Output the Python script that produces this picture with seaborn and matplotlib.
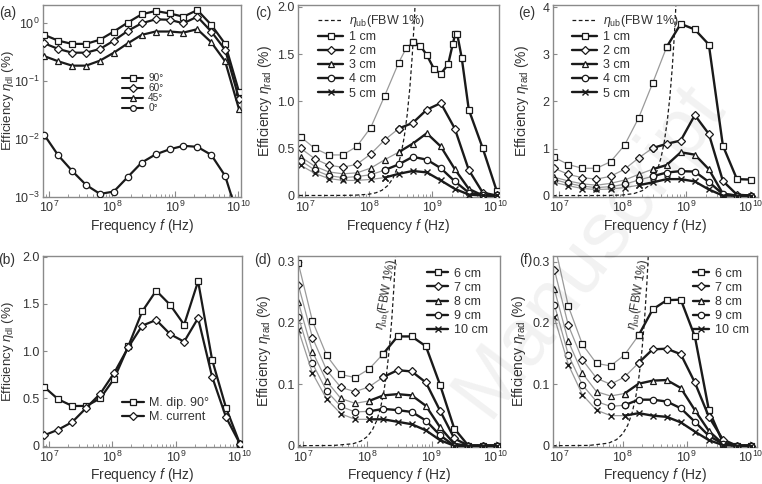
import numpy as np
import matplotlib
matplotlib.use("Agg")
import matplotlib.pyplot as plt
import seaborn as sns
from matplotlib.lines import Line2D
from matplotlib.ticker import LogLocator, NullFormatter, NullLocator, FixedLocator, FixedFormatter

sns.set_theme(style="white")
plt.rcParams['font.family'] = ['Liberation Sans', 'DejaVu Sans']
plt.rcParams['mathtext.fontset'] = 'custom'
plt.rcParams['mathtext.rm'] = 'Liberation Sans'
plt.rcParams['mathtext.it'] = 'Liberation Sans:italic'
plt.rcParams['mathtext.bf'] = 'Liberation Sans:bold'

# ---------------- data ----------------
freq = [8.5e6, 1.41e7, 2.34e7, 3.89e7, 6.46e7, 1.07e8, 1.78e8, 2.95e8,
        4.9e8, 8.13e8, 1.35e9, 2.24e9, 3.72e9, 6.17e9, 1.02e10]

# (a) dipole orientation, log scale
a_labels = ["90°", "60°", "45°", "0°"]
a_90 = [0.63, 0.50, 0.44, 0.44, 0.52, 0.72, 1.03, 1.43, 1.63, 1.48, 1.30, 1.69, 0.94, 0.44, 0.066]
a_60 = [0.45, 0.36, 0.31, 0.31, 0.36, 0.50, 0.74, 1.00, 1.17, 1.15, 1.00, 1.30, 0.72, 0.35, 0.05]
a_45 = [0.27, 0.22, 0.185, 0.185, 0.226, 0.31, 0.45, 0.63, 0.72, 0.72, 0.69, 0.79, 0.47, 0.22, 0.033]
a_0 = [0.0117, 0.0052, 0.0028, 0.0016, 0.00112, 0.00123, 0.0022, 0.0039, 0.0054, 0.0066,
       0.0076, 0.0073, 0.0053, 0.0023, 0.0004]

# (b)
b_labels = ["M. dip. 90°", "M. current"]
b_dip = [0.62, 0.49, 0.42, 0.42, 0.50, 0.71, 1.05, 1.42, 1.64, 1.49, 1.28, 1.74, 0.91, 0.40, 0.02]
b_cur = [0.11, 0.17, 0.25, 0.40, 0.55, 0.77, 1.04, 1.27, 1.33, 1.18, 1.10, 1.35, 0.73, 0.30, 0.02]

# (c)
c_labels = ["1 cm", "2 cm", "3 cm", "4 cm", "5 cm"]
freq_c1 = [8.5e6, 1.41e7, 2.34e7, 3.89e7, 6.46e7, 1.07e8, 1.78e8, 2.95e8, 3.85e8, 4.9e8,
           6.4e8, 8.13e8, 1.06e9, 1.35e9, 1.76e9, 2.09e9, 2.27e9, 2.45e9, 2.88e9,
           3.72e9, 6.17e9, 1.02e10]
c_1 = [0.62, 0.50, 0.43, 0.43, 0.52, 0.72, 1.06, 1.41, 1.56, 1.63, 1.59, 1.49, 1.34,
       1.29, 1.39, 1.61, 1.71, 1.71, 1.46, 0.91, 0.50, 0.05]
c_2 = [0.50, 0.39, 0.32, 0.30, 0.33, 0.44, 0.59, 0.71, 0.77, 0.91, 0.98, 0.71, 0.27, 0.03, 0.0]
c_3 = [0.41, 0.31, 0.25, 0.23, 0.24, 0.29, 0.38, 0.46, 0.55, 0.66, 0.52, 0.28, 0.07, 0.0, 0.0]
c_4 = [0.37, 0.27, 0.21, 0.19, 0.20, 0.22, 0.27, 0.33, 0.41, 0.38, 0.29, 0.15, 0.03, 0.0, 0.0]
c_5 = [0.32, 0.235, 0.18, 0.16, 0.16, 0.17, 0.19, 0.23, 0.26, 0.245, 0.16, 0.07, 0.01, 0.0, 0.0]
ub_c_f = [8e6, 3e7, 6e7, 1e8, 1.3e8, 1.6e8, 2e8, 2.4e8, 2.8e8, 3.2e8, 3.6e8, 4.0e8, 4.4e8, 4.8e8, 5.2e8, 5.6e8]
ub_c = [0.0, 0.0004, 0.0029, 0.0133, 0.0293, 0.0546, 0.107, 0.184, 0.293, 0.437, 0.622, 0.854,
        1.136, 1.476, 1.876, 2.34]

# (d)
d_labels = ["6 cm", "7 cm", "8 cm", "9 cm", "10 cm"]
d_6 = [0.297, 0.203, 0.147, 0.116, 0.111, 0.125, 0.150, 0.178, 0.178, 0.162, 0.099, 0.028, 0.0, 0.0, 0.0]
d_7 = [0.262, 0.176, 0.123, 0.095, 0.088, 0.096, 0.112, 0.123, 0.121, 0.103, 0.057, 0.012, 0.0, 0.0, 0.0]
d_8 = [0.234, 0.153, 0.105, 0.077, 0.069, 0.073, 0.082, 0.084, 0.082, 0.065, 0.030, 0.003, 0.0, 0.0, 0.0]
d_9 = [0.210, 0.134, 0.089, 0.064, 0.055, 0.056, 0.060, 0.058, 0.055, 0.041, 0.017, 0.0, 0.0, 0.0, 0.0]
d_10 = [0.189, 0.118, 0.076, 0.052, 0.043, 0.043, 0.043, 0.039, 0.035, 0.025, 0.009, 0.0, 0.0, 0.0, 0.0]
ub_d_f = [8e6, 3e7, 6e7, 8e7, 1e8, 1.2e8, 1.4e8, 1.6e8, 1.8e8, 2.0e8, 2.2e8, 2.4e8, 2.6e8, 2.8e8]
ub_d = [0.0, 0.0004, 0.0032, 0.0076, 0.0149, 0.0257, 0.0408, 0.0609, 0.0867, 0.1189, 0.1582,
        0.2054, 0.2612, 0.3262]

# (e)
e_1 = [0.81, 0.66, 0.58, 0.58, 0.72, 1.07, 1.65, 2.39, 3.16, 3.65, 3.53, 3.21, 1.06, 0.35, 0.34]
e_2 = [0.58, 0.45, 0.38, 0.35, 0.41, 0.56, 0.80, 1.01, 1.10, 1.17, 1.71, 1.31, 0.31, 0.02, 0.0]
e_3 = [0.39, 0.31, 0.25, 0.22, 0.26, 0.33, 0.45, 0.56, 0.65, 0.92, 0.87, 0.56, 0.04, 0.0, 0.0]
e_4 = [0.34, 0.26, 0.20, 0.17, 0.19, 0.24, 0.33, 0.41, 0.49, 0.52, 0.51, 0.29, 0.03, 0.0, 0.0]
e_5 = [0.28, 0.21, 0.15, 0.13, 0.14, 0.17, 0.22, 0.28, 0.35, 0.35, 0.30, 0.13, 0.0, 0.0, 0.0]
ub_e_f = [8e6, 3e7, 6e7, 1e8, 1.5e8, 2e8, 2.5e8, 3e8, 3.5e8, 4e8, 4.5e8, 5e8, 5.5e8, 6e8, 6.5e8, 7e8]
ub_e = [0.0, 0.0003, 0.0027, 0.0127, 0.0427, 0.101, 0.198, 0.342, 0.543, 0.810, 1.153, 1.582,
        2.106, 2.734, 3.476, 4.34]

# (f)
f_6 = [0.33, 0.227, 0.165, 0.134, 0.130, 0.148, 0.180, 0.222, 0.237, 0.238, 0.178, 0.058, 0.005, 0.0, 0.0]
f_7 = [0.287, 0.196, 0.140, 0.110, 0.100, 0.112, 0.135, 0.157, 0.158, 0.149, 0.103, 0.047, 0.01, 0.0, 0.0]
f_8 = [0.255, 0.170, 0.118, 0.088, 0.081, 0.085, 0.101, 0.106, 0.107, 0.094, 0.058, 0.024, 0.003, 0.0, 0.0]
f_9 = [0.230, 0.148, 0.099, 0.072, 0.064, 0.066, 0.075, 0.075, 0.072, 0.061, 0.039, 0.016, 0.003, 0.0, 0.0]
f_10 = [0.209, 0.132, 0.083, 0.058, 0.049, 0.049, 0.053, 0.049, 0.047, 0.038, 0.023, 0.009, 0.001, 0.0, 0.0]
ub_f_f = [8e6, 3e7, 6e7, 8e7, 1e8, 1.2e8, 1.4e8, 1.6e8, 1.8e8, 2.0e8, 2.2e8, 2.4e8, 2.6e8]
ub_f = [0.0, 0.0005, 0.0042, 0.0099, 0.0193, 0.0334, 0.0530, 0.0791, 0.1126, 0.1544, 0.2056,
        0.2669, 0.3393]

ub_label = r"$\eta_{\rm ub}$(FBW 1%)"
watermark = "Manuscript"

# ---------------- style ----------------
TXT = "#333333"
SPINE = "#8a8a8a"
BLACK = "#1a1a1a"
GRAY = "#9a9a9a"
MS = 4.6
MEW = 0.9

markers5 = ["s", "D", "^", "o", "x"]
msizes5 = [MS, MS * 0.85, MS, MS, MS * 0.9]

fig = plt.figure(figsize=(7.62, 4.84), dpi=100)
fig.patch.set_facecolor("white")

W, H = 762.0, 484.0


def mkax(l, r, t, b):
    return fig.add_axes([l / W, 1 - b / H, (r - l) / W, (b - t) / H])


ax_a = mkax(43, 241, 5, 197)
ax_c = mkax(298, 499, 5, 197)
ax_e = mkax(553, 758, 5, 197)
ax_b = mkax(43, 242, 256, 446.7)
ax_d = mkax(298, 500, 256, 446.7)
ax_f = mkax(553, 757, 256, 446.7)


def style_ax(ax, xlim, ylim, yticks=None, yticklabels=None, logy=False):
    ax.set_facecolor("white")
    ax.set_xscale("log")
    if logy:
        ax.set_yscale("log")
    ax.set_xlim(*xlim)
    ax.set_ylim(*ylim)
    for s in ax.spines.values():
        s.set_color(SPINE)
        s.set_linewidth(1.0)
        s.set_visible(True)
    ax.xaxis.set_major_locator(FixedLocator([1e7, 1e8, 1e9, 1e10]))
    ax.xaxis.set_major_formatter(FixedFormatter([r"$10^{7}$", r"$10^{8}$", r"$10^{9}$", r"$10^{10}$"]))
    ax.xaxis.set_minor_locator(LogLocator(base=10, subs=np.arange(2, 10), numticks=20))
    ax.xaxis.set_minor_formatter(NullFormatter())
    ax.tick_params(axis="x", which="major", direction="in", length=4, width=0.8,
                   color=SPINE, labelsize=9, labelcolor=TXT, pad=2.2, bottom=True, top=False)
    ax.tick_params(axis="x", which="minor", direction="in", length=2.2, width=0.6,
                   color=SPINE, bottom=True, top=False)
    if yticks is not None:
        ax.yaxis.set_major_locator(FixedLocator(yticks))
        ax.yaxis.set_major_formatter(FixedFormatter(yticklabels))
    ax.yaxis.set_minor_locator(NullLocator())
    ax.tick_params(axis="y", which="major", direction="in", length=3, width=0.8,
                   color=SPINE, labelsize=9, labelcolor=TXT, pad=2.6, left=True, right=False)
    ax.set_xlabel(r"Frequency $f$ (Hz)", fontsize=10, color=TXT, labelpad=1.0)
    ax.grid(False)


def draw_series(ax, x, y, marker, ms, split=None):
    """draw a series; up to split index thin gray, after it thick black"""
    x = list(x)
    y = list(y)
    mfc = "white" if marker != "x" else BLACK
    mew = MEW if marker != "x" else 1.0
    common = dict(marker=marker, markersize=ms, markerfacecolor=mfc,
                  markeredgecolor=BLACK, markeredgewidth=mew, legend=False,
                  estimator=None, sort=False, ax=ax)
    if split is None:
        sns.lineplot(x=x, y=y, color=BLACK, linewidth=1.6, zorder=3, **common)
    else:
        k = split
        if k > 0:
            sns.lineplot(x=x[:k + 1], y=y[:k + 1], color=GRAY, linewidth=0.9, zorder=2, **common)
        sns.lineplot(x=x[k:], y=y[k:], color=BLACK, linewidth=1.7, zorder=3, **common)


def split_index(x, y, fu, u):
    lx = np.log10(np.asarray(x, float))
    lub = np.interp(lx, np.log10(fu), u, left=0.0, right=np.inf)
    above = np.where(np.asarray(y) > lub)[0]
    return int(above.max()) if len(above) else 0


def legend_handles(markers, sizes, lw=1.7):
    hs = []
    for m, s in zip(markers, sizes):
        mfc = "white" if m != "x" else BLACK
        hs.append(Line2D([], [], color=BLACK, linewidth=lw, marker=m, markersize=s,
                         markerfacecolor=mfc, markeredgecolor=BLACK,
                         markeredgewidth=MEW if m != "x" else 1.0))
    return hs


# ---------- (a) ----------
style_ax(ax_a, (8.1e6, 1.1e10), (9.9e-4, 2.07), [1e-3, 1e-2, 1e-1, 1e0],
         [r"$10^{-3}$", r"$10^{-2}$", r"$10^{-1}$", r"$10^{0}$"], logy=True)
ax_a.yaxis.set_minor_locator(NullLocator())
a_series = [a_90, a_60, a_45, a_0]
a_mk = ["s", "D", "^", "o"]
a_ms = [MS * 0.9, MS * 0.8, MS * 0.9, MS * 0.9]
for ys, m, s in zip(a_series, a_mk, [MS, MS * 0.85, MS, MS]):
    draw_series(ax_a, freq, ys, m, s)
ax_a.legend(legend_handles(a_mk, a_ms, 1.5), a_labels, loc="upper left",
            bbox_to_anchor=(0.38, 0.665), frameon=False, fontsize=7.2,
            handlelength=2.1, labelspacing=0.0, handletextpad=0.5,
            borderaxespad=0.0, labelcolor=TXT)
ax_a.set_ylabel(r"Efficiency $\eta_{\rm dl}$ (%)", fontsize=9.5, color=TXT)
ax_a.yaxis.set_label_coords(-0.138, 0.5)

# ---------- (b) ----------
style_ax(ax_b, (8.1e6, 1.1e10), (-0.011, 2.007), [0, 0.5, 1.0, 1.5, 2.0],
         ["0", "0.5", "1.0", "1.5", "2.0"])
b_mk = ["s", "D"]
b_ms = [MS, MS * 0.85]
for ys, m, s in zip([b_dip, b_cur], b_mk, b_ms):
    draw_series(ax_b, freq, ys, m, s)
ax_b.legend(legend_handles(b_mk, b_ms, 1.6), b_labels, loc="upper left",
            bbox_to_anchor=(0.37, 0.285), frameon=False, fontsize=9,
            handlelength=1.75, labelspacing=0.17, handletextpad=0.45,
            borderaxespad=0.0, labelcolor=TXT)
ax_b.set_ylabel(r"Efficiency $\eta_{\rm dl}$ (%)", fontsize=9.5, color=TXT)
ax_b.yaxis.set_label_coords(-0.135, 0.5)


def rad_panel(ax, xlim, ylim, yt, ytl, series, fx_list, fu, u, labels, leg_loc, leg_anchor,
              ub_in_legend, ylab_x, hlen):
    style_ax(ax, xlim, ylim, yt, ytl)
    sns.lineplot(x=fu, y=u, ax=ax, color=BLACK, linewidth=0.9, linestyle=(0, (3, 2)),
                 estimator=None, sort=False, legend=False, zorder=1.5)
    for ys, fx, m, s in zip(series, fx_list, markers5, msizes5):
        k = split_index(fx, ys, fu, u)
        draw_series(ax, fx, ys, m, s, split=k)
    hs = legend_handles(markers5, msizes5)
    labs = list(labels)
    if ub_in_legend:
        hs = [Line2D([], [], color=BLACK, linewidth=0.9, linestyle=(0, (3, 2)))] + hs
        labs = [ub_label] + labs
    ax.legend(hs, labs, loc=leg_loc, bbox_to_anchor=leg_anchor, frameon=False, fontsize=9,
              handlelength=hlen, labelspacing=0.17, handletextpad=0.45, borderaxespad=0.0,
              labelcolor=TXT)
    ax.set_ylabel(r"Efficiency $\eta_{\rm rad}$ (%)", fontsize=10, color=TXT)
    ax.yaxis.set_label_coords(ylab_x, 0.5)


rad_panel(ax_c, (7.7e6, 1.11e10), (-0.016, 2.02), [0, 0.5, 1.0, 1.5, 2.0],
          ["0", "0.5", "1.0", "1.5", "2.0"], [c_1, c_2, c_3, c_4, c_5],
          [freq_c1, freq, freq, freq, freq], ub_c_f, ub_c, c_labels,
          "upper left", (0.075, 0.985), True, -0.12, 2.0)
rad_panel(ax_e, (8.1e6, 1.32e10), (-0.03, 4.05), [0, 1, 2, 3, 4],
          ["0", "1", "2", "3", "4"], [e_1, e_2, e_3, e_4, e_5],
          [freq] * 5, ub_e_f, ub_e, c_labels,
          "upper left", (0.07, 0.985), True, -0.105, 2.0)
rad_panel(ax_d, (8.4e6, 1.15e10), (-0.0016, 0.309), [0, 0.1, 0.2, 0.3],
          ["0", "0.1", "0.2", "0.3"], [d_6, d_7, d_8, d_9, d_10],
          [freq] * 5, ub_d_f, ub_d, d_labels,
          "upper right", (0.965, 0.965), False, -0.125, 1.7)
rad_panel(ax_f, (8.1e6, 1.27e10), (-0.0016, 0.309), [0, 0.1, 0.2, 0.3],
          ["0", "0.1", "0.2", "0.3"], [f_6, f_7, f_8, f_9, f_10],
          [freq] * 5, ub_f_f, ub_f, d_labels,
          "upper right", (0.985, 0.965), False, -0.125, 1.3)

ax_d.text(0.435, 0.80, ub_label, transform=ax_d.transAxes, rotation=80, fontsize=8.5,
          color=TXT, ha="center", va="center")
ax_f.text(0.42, 0.80, ub_label, transform=ax_f.transAxes, rotation=80, fontsize=8.5,
          color=TXT, ha="center", va="center")

# panel letters
for lab, (px, py) in {"(a)": (8, 13), "(c)": (263, 13), "(e)": (527, 13),
                      "(b)": (7, 260), "(d)": (263, 260), "(f)": (526, 260)}.items():
    fig.text(px / W, 1 - py / H, lab, fontsize=10, color=TXT, ha="center", va="center")

# faint diagonal watermark
fig.text(590 / W, 1 - 250 / H, watermark, rotation=53, fontsize=58, color="#000000",
         alpha=0.055, ha="center", va="center", zorder=20)

fig.savefig("out.png", dpi=100, facecolor="white")
